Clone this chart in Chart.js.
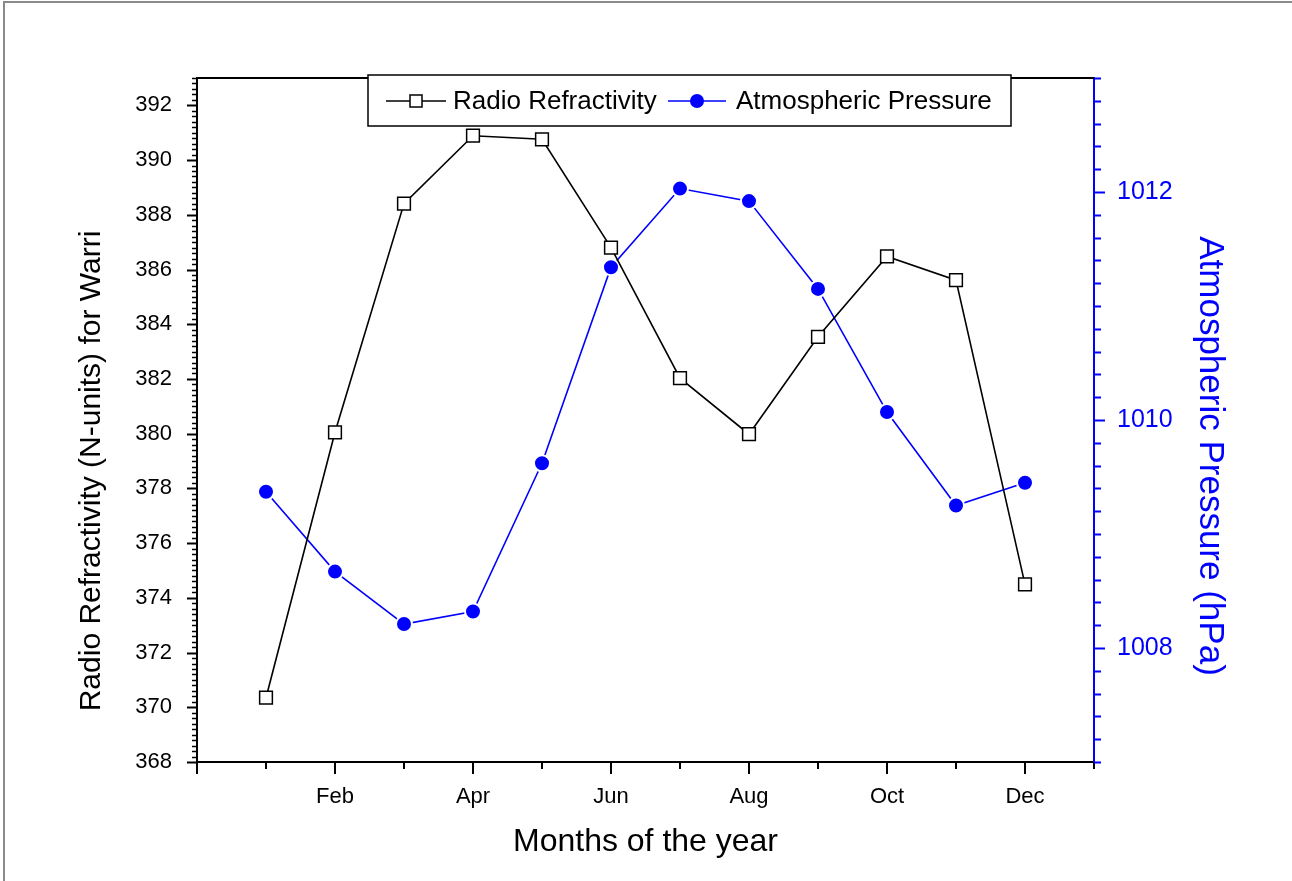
<!DOCTYPE html>
<html>
<head>
<meta charset="utf-8">
<script src="https://cdn.jsdelivr.net/npm/chart.js@4.4.1/dist/chart.umd.min.js"></script>
<style>
  html, body { margin: 0; padding: 0; background: #fff; overflow: hidden; }
  /* grey frame, only its top and left edges are in view */
  #frame { position: absolute; left: 3px; top: 1px; width: 1400px; height: 1000px;
           border-top: 2px solid #8a8a8a; border-left: 2px solid #8a8a8a; }
  #wrap { position: absolute; left: 0; top: 0; width: 1292px; height: 881px; }
</style>
</head>
<body>
<div id="frame"></div>
<div id="wrap"><canvas id="chart" width="1292" height="881"></canvas></div>
<script>
// Monthly data for Warri
const monthNums  = [1, 2, 3, 4, 5, 6, 7, 8, 9, 10, 11, 12];
const monthNames = ["Jan", "Feb", "Mar", "Apr", "May", "Jun", "Jul", "Aug", "Sep", "Oct", "Nov", "Dec"];
const refractivity = [370.35, 380.05, 388.41, 390.89, 390.76, 386.80, 382.03, 379.98, 383.54, 386.48, 385.61, 374.49];
const pressure     = [1009.37, 1008.67, 1008.21, 1008.32, 1009.62, 1011.34, 1012.03, 1011.92, 1011.15, 1010.07, 1009.25, 1009.45];

const FONT = "'Liberation Sans', Arial, Helvetica, sans-serif";
const BLUE = "#0000ff";

// Helper: pair month numbers with a series
function toPoints(values) {
  return monthNums.map((m, i) => ({ x: m, y: values[i] }));
}

// Draws tick marks (major/minor), top frame line, vertical axis titles and the legend box
const decorPlugin = {
  id: "decor",
  afterDraw(chart) {
    const ctx = chart.ctx;
    const { left, right, top, bottom } = chart.chartArea;
    const sx = chart.scales.x, sy = chart.scales.y, sy1 = chart.scales.y1;
    ctx.save();

    // top frame line
    ctx.strokeStyle = "#000";
    ctx.lineWidth = 2;
    ctx.beginPath();
    ctx.moveTo(left - 1, top);
    ctx.lineTo(right, top);
    ctx.stroke();

    // x ticks: major every 2 months, minor every month
    ctx.lineWidth = 2;
    for (let v = 0; v <= 13; v++) {
      const px = Math.round(sx.getPixelForValue(v));
      const len = v % 2 === 0 ? 12 : 7;
      ctx.beginPath();
      ctx.moveTo(px, bottom);
      ctx.lineTo(px, bottom + len);
      ctx.stroke();
    }

    // left y ticks: major every 2, minor every 0.2
    for (let k = 0; k <= 125; k++) {
      const py = Math.round(sy.getPixelForValue(368 + k * 0.2)) + 0.5;
      const len = k % 10 === 0 ? 10 : 5;
      ctx.lineWidth = k % 10 === 0 ? 2 : 1.5;
      ctx.beginPath();
      ctx.moveTo(left, py);
      ctx.lineTo(left - len, py);
      ctx.stroke();
    }

    // right y ticks (blue): major every 2, minor every 0.2
    ctx.strokeStyle = BLUE;
    for (let k = 0; k <= 30; k++) {
      const py = Math.round(sy1.getPixelForValue(1007 + k * 0.2)) + 0.5;
      const major = (k - 5) % 10 === 0;
      ctx.lineWidth = 2;
      ctx.beginPath();
      ctx.moveTo(right, py);
      ctx.lineTo(right + (major ? 11 : 7), py);
      ctx.stroke();
    }

    // vertical axis titles
    ctx.textAlign = "center";
    ctx.textBaseline = "middle";
    ctx.fillStyle = "#000";
    ctx.font = "30px " + FONT;
    ctx.save();
    ctx.translate(92, 471);
    ctx.rotate(-Math.PI / 2);
    ctx.fillText("Radio Refractivity (N-units) for Warri", 0, 0);
    ctx.restore();
    ctx.fillStyle = BLUE;
    ctx.font = "35px " + FONT;
    ctx.save();
    ctx.translate(1210, 456);
    ctx.rotate(Math.PI / 2);
    ctx.fillText("Atmospheric Pressure (hPa)", 0, 0);
    ctx.restore();

    // legend box
    const bx = 368, by = 75, bw = 643, bh = 51, cy = by + 26;
    ctx.fillStyle = "#fff";
    ctx.fillRect(bx, by, bw, bh);
    ctx.strokeStyle = "#000";
    ctx.lineWidth = 1.5;
    ctx.strokeRect(bx, by, bw, bh);

    // entry 1: line + hollow square
    ctx.lineWidth = 1.5;
    ctx.beginPath();
    ctx.moveTo(386, cy); ctx.lineTo(446, cy);
    ctx.stroke();
    ctx.fillStyle = "#fff";
    ctx.fillRect(410, cy - 6, 12, 12);
    ctx.strokeRect(410, cy - 6, 12, 12);

    // entry 2: blue line + filled circle
    ctx.strokeStyle = BLUE;
    ctx.beginPath();
    ctx.moveTo(668, cy); ctx.lineTo(726, cy);
    ctx.stroke();
    ctx.fillStyle = BLUE;
    ctx.beginPath();
    ctx.arc(697, cy, 7, 0, Math.PI * 2);
    ctx.fill();

    ctx.fillStyle = "#000";
    ctx.font = "26px " + FONT;
    ctx.textAlign = "left";
    ctx.fillText("Radio Refractivity", 453, cy + 1);
    ctx.fillText("Atmospheric Pressure", 736, cy + 1);

    ctx.restore();
  }
};

const ctx = document.getElementById("chart").getContext("2d");
new Chart(ctx, {
  type: "line",
  data: {
    datasets: [
      {
        label: "Radio Refractivity",
        data: toPoints(refractivity),
        yAxisID: "y",
        borderColor: "#000",
        borderWidth: 1.6,
        pointStyle: "rect",
        pointRadius: 9,
        pointBackgroundColor: "#fff",
        pointBorderColor: "#000",
        pointBorderWidth: 1.5,
        tension: 0
      },
      {
        label: "Atmospheric Pressure",
        data: toPoints(pressure),
        yAxisID: "y1",
        borderColor: BLUE,
        borderWidth: 1.6,
        pointStyle: "circle",
        pointRadius: 8,
        pointBackgroundColor: BLUE,
        pointBorderColor: "#fff",
        pointBorderWidth: 2,
        tension: 0
      }
    ]
  },
  options: {
    responsive: false,
    animation: false,
    layout: { padding: { left: 75, right: 65, top: 78, bottom: 16 } },
    plugins: { legend: { display: false }, tooltip: { enabled: false } },
    scales: {
      x: {
        type: "linear",
        position: "bottom",
        min: 0,
        max: 13,
        afterFit: s => { s.height = 103; },
        ticks: {
          stepSize: 1,
          autoSkip: false,
          maxRotation: 0,
          padding: 22,
          color: "#000",
          font: { family: FONT, size: 22 },
          callback: v => (v % 2 === 0 && v >= 2 && v <= 12) ? monthNames[v - 1] : ""
        },
        grid: { display: false, drawTicks: false },
        border: { display: true, color: "#000", width: 2 },
        title: { display: true, text: "Months of the year", color: "#000", font: { family: FONT, size: 32 } }
      },
      y: {
        position: "left",
        min: 368,
        max: 393,
        afterFit: s => { s.width = 122; },
        ticks: {
          stepSize: 1,
          autoSkip: false,
          padding: 25,
          color: "#000",
          font: { family: FONT, size: 22 },
          callback: v => (v % 2 === 0 && v <= 392) ? String(v) : ""
        },
        grid: { display: false, drawTicks: false },
        border: { display: true, color: "#000", width: 2 }
      },
      y1: {
        position: "right",
        min: 1007,
        max: 1013,
        afterFit: s => { s.width = 133; },
        ticks: {
          stepSize: 1,
          autoSkip: false,
          padding: 23,
          color: BLUE,
          font: { family: FONT, size: 25 },
          callback: v => (v % 2 === 0) ? String(v) : ""
        },
        grid: { display: false, drawTicks: false },
        border: { display: true, color: BLUE, width: 2 }
      }
    }
  },
  plugins: [decorPlugin]
});
</script>
</body>
</html>
